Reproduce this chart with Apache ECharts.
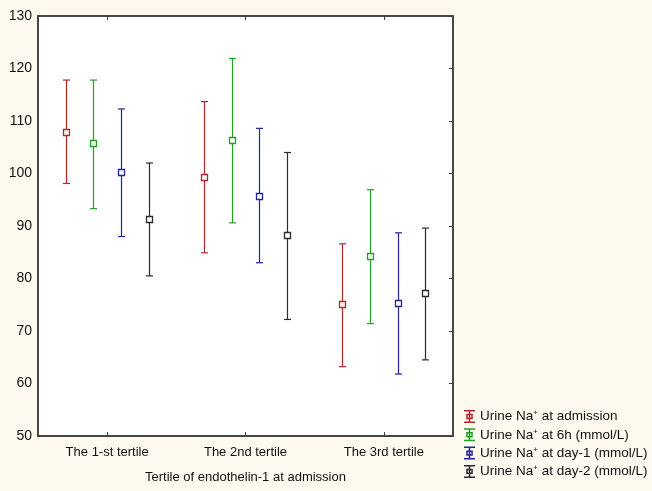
<!DOCTYPE html>
<html>
<head>
<meta charset="utf-8">
<script src="https://cdn.jsdelivr.net/npm/echarts@6/dist/echarts.min.js"></script>
<style>
html,body{margin:0;padding:0;background:#fefaf0;}
#chart{width:652px;height:491px;}
</style>
</head>
<body>
<div id="chart"></div>
<script>
const categories = ['The 1-st tertile', 'The 2nd tertile', 'The 3rd tertile'];
const seriesNames = ['admission', '6h', 'day-1', 'day-2'];
const legendLabels = [
  'Urine Na{sup|+} at admission',
  'Urine Na{sup|+} at 6h (mmol/L)',
  'Urine Na{sup|+} at day-1 (mmol/L)',
  'Urine Na{sup|+} at day-2 (mmol/L)'
];
const yTicks = [50, 60, 70, 80, 90, 100, 110, 120, 130];

const meanAdmission = [108.0, 99.4, 75.1];
const lowAdmission  = [98.1, 84.9, 63.2];
const highAdmission = [117.8, 113.7, 86.6];

const mean6h = [105.8, 106.4, 84.3];
const low6h  = [93.3, 90.6, 71.4];
const high6h = [117.8, 121.9, 96.9];

const meanDay1 = [100.2, 95.8, 75.3];
const lowDay1  = [88.0, 83.0, 61.8];
const highDay1 = [112.3, 108.6, 88.7];

const meanDay2 = [91.3, 88.3, 77.2];
const lowDay2  = [80.5, 72.2, 64.5];
const highDay2 = [102.0, 104.0, 89.6];

const colors = ['#b3272d', '#22a022', '#23239e', '#2b2b2b'];
const offsets = [-0.3, -0.1, 0.1, 0.3];

const allMeans = [meanAdmission, mean6h, meanDay1, meanDay2];
const allLows = [lowAdmission, low6h, lowDay1, lowDay2];
const allHighs = [highAdmission, high6h, highDay1, highDay2];

const iconPath = 'path://M0,0H110V15H0Z M0,115H110V130H0Z M47,15H63V38H47Z M47,92H63V115H47Z M22,38H88V92H22Z M37,53V77H73V53Z M47,53H63V77H47Z';

function makeRender(offset, color) {
  return function (params, api) {
    const cat = api.value(0);
    const band = api.size([1, 0])[0];
    const pM = api.coord([cat, api.value(1)]);
    const pL = api.coord([cat, api.value(2)]);
    const pH = api.coord([cat, api.value(3)]);
    const x = Math.round(pM[0] + band * offset) + 0.5;
    const cap = 3.5;
    const half = 3;
    const st = { stroke: color, lineWidth: 1.2, fill: null };
    return {
      type: 'group',
      children: [
        { type: 'line', shape: { x1: x, y1: pH[1], x2: x, y2: pL[1] }, style: st },
        { type: 'line', shape: { x1: x - cap, y1: pH[1], x2: x + cap, y2: pH[1] }, style: st },
        { type: 'line', shape: { x1: x - cap, y1: pL[1], x2: x + cap, y2: pL[1] }, style: st },
        { type: 'rect', shape: { x: x - half, y: Math.round(pM[1]) - half + 0.5, width: half * 2, height: half * 2 },
          style: { stroke: color, lineWidth: 1.3, fill: '#ffffff' } }
      ]
    };
  };
}

const series = seriesNames.map((name, i) => ({
  name: name,
  type: 'custom',
  renderItem: makeRender(offsets[i], colors[i]),
  itemStyle: { color: colors[i] },
  encode: { x: 0, y: [1, 2, 3] },
  data: categories.map((c, k) => [k, allMeans[i][k], allLows[i][k], allHighs[i][k]])
}));

const chart = echarts.init(document.getElementById('chart'), null, { renderer: 'canvas' });
chart.setOption({
  backgroundColor: '#fefaf0',
  animation: false,
  textStyle: { fontFamily: 'Liberation Sans, Arial, sans-serif' },
  grid: {
    left: 38, right: 199, top: 16, bottom: 55,
    show: true, backgroundColor: '#ffffff', borderColor: '#3c3c3c', borderWidth: 1.5
  },
  legend: {
    orient: 'vertical',
    left: 459, top: 404,
    itemWidth: 11, itemHeight: 13, itemGap: 3.8,
    icon: iconPath,
    data: seriesNames.map((n, i) => ({ name: n, itemStyle: { color: colors[i], borderWidth: 0 } })),
    formatter: function (name) { return legendLabels[seriesNames.indexOf(name)]; },
    textStyle: {
      fontSize: 13.5, color: '#111', fontFamily: 'Liberation Sans, Arial, sans-serif',
      rich: {
        sup: { fontSize: 8, verticalAlign: 'bottom', padding: [0, 0, 7, 0], color: '#111' }
      }
    }
  },
  xAxis: [
    {
      type: 'category', data: categories, position: 'bottom',
      axisLine: { show: true, lineStyle: { color: '#3c3c3c', width: 1.5 } },
      axisTick: { show: true, inside: true, length: 4, alignWithLabel: true, lineStyle: { color: '#3c3c3c' } },
      axisLabel: { fontSize: 13, color: '#111', margin: 10 },
      name: 'Tertile of endothelin-1 at admission', nameLocation: 'middle', nameGap: 35,
      nameTextStyle: { fontSize: 13, color: '#111' }
    },
    {
      type: 'category', data: categories, position: 'top',
      axisLine: { show: true, lineStyle: { color: '#3c3c3c', width: 1.5 } },
      axisTick: { show: true, inside: true, length: 4, alignWithLabel: true, lineStyle: { color: '#3c3c3c' } },
      axisLabel: { show: false }
    }
  ],
  yAxis: [
    {
      type: 'value', min: 50, max: 130, interval: 10, position: 'left',
      axisLine: { show: true, lineStyle: { color: '#3c3c3c', width: 1.5 } },
      axisTick: { show: false },
      splitLine: { show: false },
      axisLabel: { fontSize: 14, color: '#111', margin: 6,
        formatter: v => (yTicks.indexOf(v) >= 0 ? String(v) : '') }
    },
    {
      type: 'value', min: 50, max: 130, interval: 10, position: 'right',
      axisLine: { show: true, lineStyle: { color: '#3c3c3c', width: 1.5 } },
      axisTick: { show: true, inside: true, length: 4, lineStyle: { color: '#3c3c3c' } },
      splitLine: { show: false },
      axisLabel: { show: false }
    }
  ],
  series: series
});
</script>
</body>
</html>
